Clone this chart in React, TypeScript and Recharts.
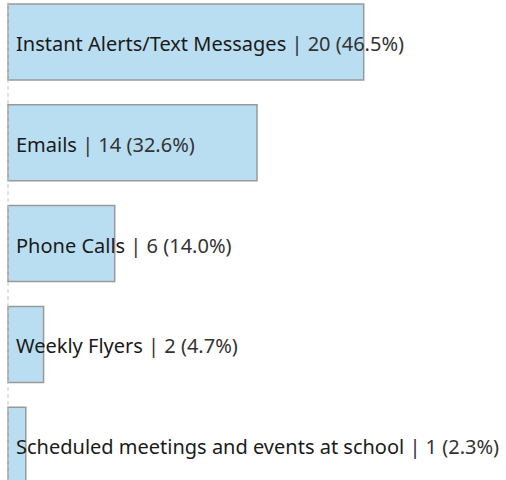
import { BarChart, Bar, XAxis, YAxis, ReferenceLine, LabelList } from "recharts";

const channels = [
  "Instant Alerts/Text Messages",
  "Emails",
  "Phone Calls",
  "Weekly Flyers",
  "Scheduled meetings and events at school",
];
const counts = [20, 14, 6, 2, 1];
const shares = ["46.5%", "32.6%", "14.0%", "4.7%", "2.3%"];

const data = channels.map((name, i) => ({ name, count: counts[i], share: shares[i] }));

const BarLabel = (props: any) => {
  const { x, y, height, index } = props;
  const d = data[index];
  return (
    <text
      x={x + 8}
      y={y + height / 2 + 9}
      fontFamily="'Noto Sans', sans-serif"
      fontSize={20}
    >
      <tspan fill="#1a1a1a">{d.name}</tspan>
      <tspan fill="#333333">{` | ${d.count} (${d.share})`}</tspan>
    </text>
  );
};

export default function App() {
  return (
    <div style={{ position: "absolute", left: 0, top: -8 }}>
      <BarChart
        width={506}
        height={504}
        data={data}
        layout="vertical"
        margin={{ top: 0, right: 0, bottom: 0, left: 8 }}
        barCategoryGap={0}
      >
        <XAxis type="number" domain={[0, 28]} hide />
        <YAxis type="category" dataKey="name" hide />
        <ReferenceLine x={0} stroke="#c8c8c8" strokeDasharray="4 3" strokeWidth={1} />
        <Bar
          dataKey="count"
          barSize={76}
          fill="#badef1"
          stroke="#999999"
          strokeWidth={1.5}
          isAnimationActive={false}
        >
          <LabelList dataKey="count" content={BarLabel} />
        </Bar>
      </BarChart>
    </div>
  );
}
